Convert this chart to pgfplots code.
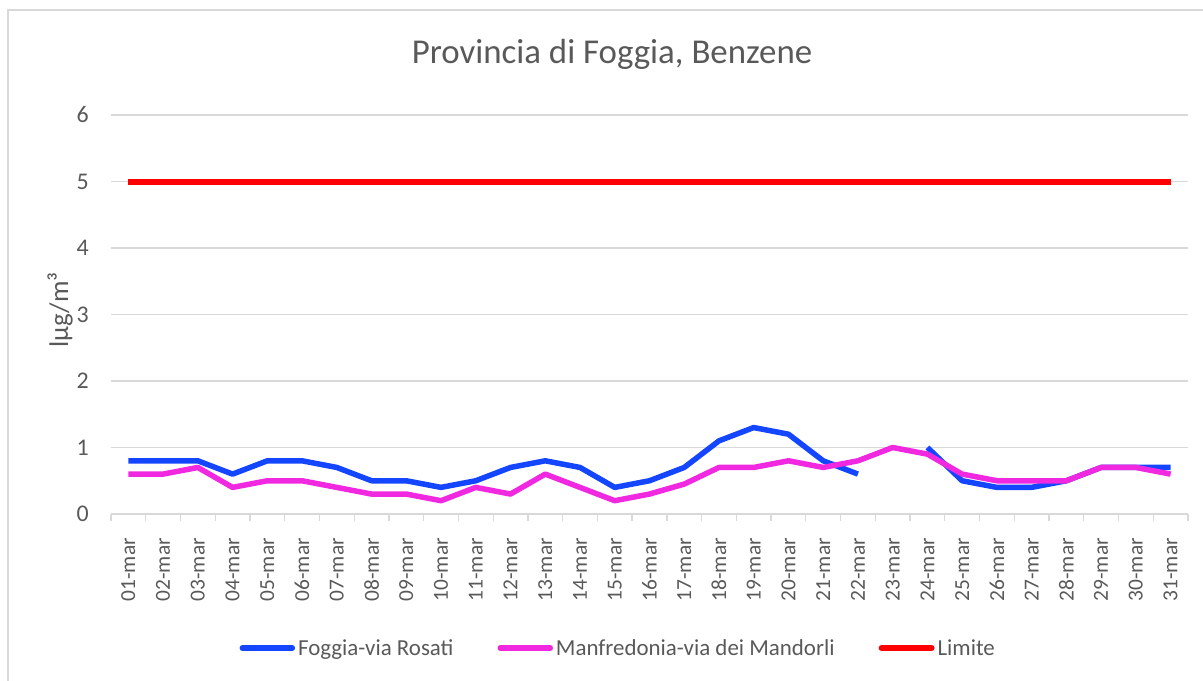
\documentclass[border=0pt]{standalone}
\usepackage{fontspec}
\setmainfont{Carlito}
\usepackage{pgfplots}
\pgfplotsset{compat=1.18}
\definecolor{txt}{HTML}{595959}
\definecolor{gridc}{HTML}{D9D9D9}
\definecolor{fblue}{HTML}{1446FF}
\definecolor{mpink}{HTML}{F028E0}
\definecolor{lred}{HTML}{FF0000}
\begin{document}
\begin{tikzpicture}
\useasboundingbox (-111bp,-167bp) rectangle (1092bp,514bp);
\draw[gridc, line width=1.5bp] (-103bp,-300bp) -- (-103bp,504bp) -- (1300bp,504bp);
\begin{axis}[
  at={(0,0)}, anchor=south west,
  width=1077bp, height=399bp, scale only axis,
  xmin=-0.5, xmax=30.5, ymin=0, ymax=6,
  xtick={0,...,30},
  xticklabels={01-mar,02-mar,03-mar,04-mar,05-mar,06-mar,07-mar,08-mar,09-mar,10-mar,11-mar,12-mar,13-mar,14-mar,15-mar,16-mar,17-mar,18-mar,19-mar,20-mar,21-mar,22-mar,23-mar,24-mar,25-mar,26-mar,27-mar,28-mar,29-mar,30-mar,31-mar},
  minor xtick={-0.5,0.5,...,30.5},
  ytick={0,1,2,3,4,5,6},
  major tick length=0pt,
  minor tick length=7bp,
  tick align=outside,
  tick style={gridc, line width=1.3bp},
  axis lines*=left,
  y axis line style={draw=none},
  x axis line style={gridc, line width=1.8bp},
  ymajorgrids,
  grid style={gridc, line width=1.2bp},
  /pgf/number format/assume math mode=true,
  tick label style={text=txt},
  xticklabel style={rotate=90, anchor=east, inner sep=0pt, font=\fontsize{21.5}{24}\selectfont},
  xticklabel shift=24bp,
  yticklabel style={anchor=east, inner sep=0pt, xshift=-22bp, font=\fontsize{24}{28}\selectfont},
  ylabel={lµg/m³},
  ylabel style={at={(axis description cs:-0.0399,0.511)}, anchor=base, font=\fontsize{27}{30}\selectfont, text=txt},
  title={Provincia di Foggia, Benzene},
  title style={at={(axis description cs:0.4652,1.115)}, anchor=base, font=\fontsize{35}{40}\selectfont, text=txt},
  unbounded coords=jump,
  legend columns=3,
  legend style={at={(axis description cs:0.4710,-0.336)}, anchor=center, draw=none, fill=none,
    font=\fontsize{23}{26}\selectfont, text=txt, column sep=1bp,
    /tikz/every even column/.append style={column sep=42bp}},
  legend image code/.code={\draw[#1, line cap=round] (0bp,0bp) -- (50bp,0bp);},
]
\addplot[fblue, line width=5.5bp, line join=round] coordinates {
(0,0.8) (1,0.8) (2,0.8) (3,0.6) (4,0.8) (5,0.8) (6,0.7) (7,0.5) (8,0.5) (9,0.4)
(10,0.5) (11,0.7) (12,0.8) (13,0.7) (14,0.4) (15,0.5) (16,0.7) (17,1.1) (18,1.3) (19,1.2)
(20,0.8) (21,0.6) (22,nan) (23,1.0) (24,0.5) (25,0.4) (26,0.4) (27,0.5) (28,0.7) (29,0.7) (30,0.7)};
\addlegendentry{Foggia-via Rosati}
\addplot[mpink, line width=5.5bp, line join=round] coordinates {
(0,0.6) (1,0.6) (2,0.7) (3,0.4) (4,0.5) (5,0.5) (6,0.4) (7,0.3) (8,0.3) (9,0.2)
(10,0.4) (11,0.3) (12,0.6) (13,0.4) (14,0.2) (15,0.3) (16,0.45) (17,0.7) (18,0.7) (19,0.8)
(20,0.7) (21,0.8) (22,1.0) (23,0.9) (24,0.6) (25,0.5) (26,0.5) (27,0.5) (28,0.7) (29,0.7) (30,0.6)};
\addlegendentry{Manfredonia-via dei Mandorli}
\addplot[lred, line width=6bp] coordinates {
(0,5) (1,5) (2,5) (3,5) (4,5) (5,5) (6,5) (7,5) (8,5) (9,5)
(10,5) (11,5) (12,5) (13,5) (14,5) (15,5) (16,5) (17,5) (18,5) (19,5)
(20,5) (21,5) (22,5) (23,5) (24,5) (25,5) (26,5) (27,5) (28,5) (29,5) (30,5)};
\addlegendentry{Limite}
\end{axis}
\end{tikzpicture}
\end{document}
